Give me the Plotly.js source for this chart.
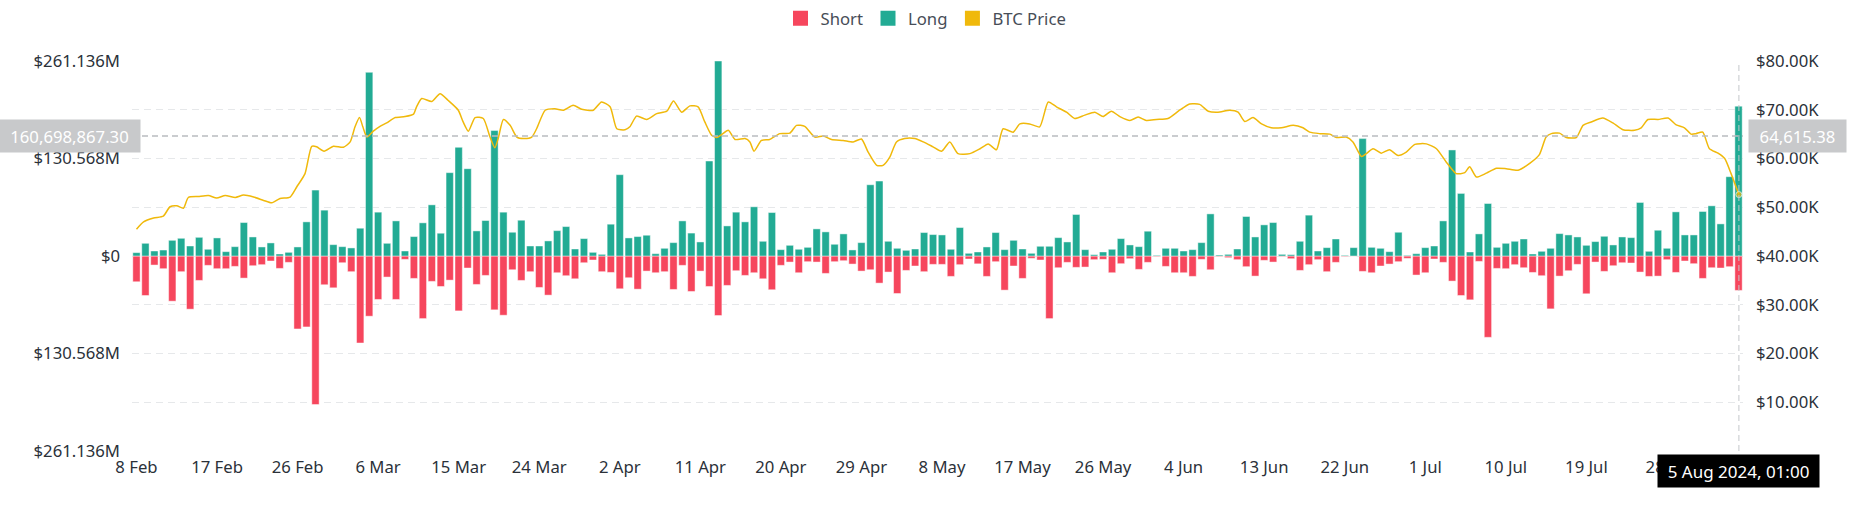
<!DOCTYPE html>
<html>
<head>
<meta charset="utf-8">
<script src="https://cdn.plot.ly/plotly-3.0.1.min.js"></script>
<style>
  html, body { margin: 0; padding: 0; background: #ffffff; }
  #chart { width: 1852px; height: 525px; }
</style>
</head>
<body>
<div id="chart"></div>
<script>
// ---- Data ----
const startDate = '2024-02-08';   // first daily bar
// Long liquidations per day, million USD (8 Feb .. 5 Aug 2024)
const longM = [
  4.5, 17, 6.7, 8, 21, 23.7, 13.4, 25, 9, 24.2,
  5.8, 12.5, 44.8, 25.5, 12.1, 17.5, 2.7, 4.9, 12.1, 45.7,
  88.3, 61.4, 15.2, 12.5, 10.8, 37.2, 246, 58.7, 17, 47,
  6.7, 26, 44.4, 68.5, 30.5, 111.6, 145.6, 116.9, 33.6, 47.5,
  168, 58.7, 31.8, 47.9, 13.4, 13.4, 20.2, 34, 39.4, 9.4,
  23.3, 4.9, 2.2, 42.6, 108.9, 24.2, 26, 27.8, 3.1, 10.3,
  17.9, 47, 30.7, 18.8, 127.2, 261.136, 40.3, 58.7, 45.7, 65.9,
  19.7, 58.2, 8.5, 14.3, 9, 11.6, 36.3, 32.3, 15.7, 29.6,
  8.1, 17.9, 95.4, 100.4, 19.7, 10.3, 7.6, 9.4, 31.4, 28.7,
  28.2, 9, 38.1, 3.6, 5.4, 12.1, 31.4, 8.5, 21, 9.4,
  3.6, 13, 13, 24.6, 18.8, 55.6, 8.5, 1.8, 5.4, 9,
  23.3, 14.8, 12.5, 33.2, 0.9, 10.3, 10.3, 6.7, 8.5, 17.9,
  56.4, 1.3, 2.2, 9.4, 52.9, 25.5, 41.7, 44.8, 2.2, 1.8,
  19.7, 54.7, 6.7, 11.2, 22.8, 0.9, 11.2, 157.2, 11.6, 10.3,
  5.8, 31.8, 0.9, 3.1, 11.2, 13.4, 47, 142, 83.8, 5.4,
  29.6, 70.3, 11.6, 17, 19.7, 22.8, 2.7, 6.3, 10.3, 30,
  28.2, 25.5, 14.3, 19.3, 26.4, 14.8, 25.5, 24.6, 71.7, 6.3,
  34.5, 10.3, 59.1, 28.2, 28.2, 59.6, 67.2, 43, 106.2, 200.7
];
// Short liquidations per day, million USD (drawn below zero)
const shortM = [
  34.5, 52.9, 12.1, 17, 60.5, 21, 71.2, 32.7, 12.5, 17,
  17, 13.9, 29.6, 13, 11.6, 6.7, 16.6, 8.5, 97.7, 95,
  198.9, 38.5, 42.6, 9, 21, 116.5, 80.6, 58.2, 28.2, 58.2,
  4.5, 30, 83.8, 34, 40.8, 32.3, 73.5, 16.1, 38.1, 26,
  72.1, 79.3, 18.4, 32.7, 21, 42.1, 52.4, 22.4, 26.4, 30.5,
  9, 5.4, 21, 22, 43.9, 29.1, 44.4, 20.2, 22.4, 21,
  44.8, 12.5, 47.5, 20.2, 40.8, 79.7, 39.4, 19.7, 26, 22.4,
  30.5, 45.2, 12.5, 8.1, 22.4, 7.6, 8.1, 23.3, 7.6, 6.3,
  10.8, 20.2, 18.4, 36.3, 21.5, 50.2, 19.3, 13.4, 21, 11.2,
  11.2, 27.3, 11.6, 4, 10.5, 27.3, 7.6, 45.7, 13.4, 30,
  3.1, 5.4, 83.8, 15.7, 8.5, 15.2, 14.8, 4.9, 4.5, 22.4,
  10.3, 3.6, 17.9, 8.5, 0.9, 13.9, 22.4, 22.4, 27.3, 4.5,
  18.4, 0.9, 2.2, 4.9, 14.3, 26.9, 5.8, 8.1, 0.9, 3.6,
  19.3, 11.6, 4.9, 21, 8.5, 0.9, 0.3, 20.6, 22.4, 13.4,
  10.8, 7.6, 3.1, 25.5, 22.4, 4, 8.5, 33.6, 52.9, 58.7,
  7.2, 108.9, 16.6, 17, 11.6, 15.7, 22, 26.4, 70.8, 26.9,
  19.7, 11.2, 50.6, 8.1, 20.6, 13, 9, 9.4, 21.5, 27.3,
  26.9, 4.9, 22, 6.7, 10.3, 30, 15.7, 16.1, 14.3, 46.1
];
// BTC price samples: time in days after 8 Feb 2024 00:00, price in thousand USD
const priceDay = [
  0.0, 0.78, 1.9, 3.02, 3.76, 4.51, 5.25, 5.81, 6.93, 8.04,
  8.97, 9.91, 11.03, 11.95, 13.07, 14.19, 15.12, 16.05, 17.17, 17.91,
  18.84, 19.59, 20.14, 20.96, 22.0, 23.12, 23.87, 24.43, 24.91, 25.28,
  25.73, 26.47, 27.22, 27.97, 28.9, 30.01, 30.94, 31.31, 31.87, 32.99,
  33.92, 34.85, 35.97, 36.52, 37.08, 37.83, 38.76, 39.5, 40.06, 40.43,
  41.0, 41.74, 42.48, 43.23, 44.16, 44.71, 45.65, 46.76, 47.69, 48.81,
  49.74, 51.04, 51.97, 52.9, 53.65, 54.58, 55.14, 55.88, 57.0, 58.12,
  59.23, 59.98, 60.91, 61.84, 62.77, 63.51, 64.26, 64.82, 65.37, 66.12,
  66.86, 67.98, 68.54, 68.98, 69.84, 70.77, 71.89, 73.01, 73.75, 74.68,
  75.8, 76.73, 77.66, 78.96, 80.08, 81.01, 81.75, 82.69, 83.43, 84.18,
  84.92, 85.85, 86.97, 87.9, 89.01, 89.95, 90.88, 91.81, 93.11, 94.23,
  95.15, 96.09, 96.83, 97.95, 98.69, 99.81, 100.93, 101.86, 102.79, 103.9,
  104.83, 105.95, 107.07, 108.0, 108.93, 109.86, 110.98, 111.91, 112.84, 113.96,
  115.26, 116.56, 117.68, 118.8, 119.73, 120.84, 122.15, 123.08, 123.82, 124.75,
  125.69, 126.81, 127.92, 129.23, 130.34, 131.09, 132.2, 133.32, 134.07, 135.18,
  135.93, 136.86, 137.42, 138.16, 139.09, 140.02, 140.95, 141.88, 142.82, 144.12,
  145.24, 146.35, 147.47, 148.4, 148.96, 149.7, 150.82, 151.94, 153.05, 154.36,
  155.66, 156.77, 157.52, 158.08, 159.01, 159.75, 160.87, 161.61, 162.54, 163.85,
  164.96, 166.08, 167.38, 168.13, 168.87, 169.99, 171.11, 172.04, 172.97, 173.71,
  174.27, 175.02, 175.76, 176.69, 177.44, 178.18, 179.04
];
const priceK = [
  45.5, 47.0, 47.8, 48.2, 50.1, 50.3, 49.8, 52.0, 52.2, 52.4,
  51.9, 52.4, 52.0, 52.5, 52.1, 51.4, 50.9, 51.8, 52.1, 54.2,
  56.9, 62.5, 62.4, 61.5, 62.5, 62.3, 63.4, 66.5, 68.4, 66.5,
  64.4, 65.6, 66.6, 67.3, 68.4, 68.6, 69.1, 70.6, 72.3, 71.7,
  73.3, 71.9, 69.9, 67.5, 65.6, 68.4, 68.2, 64.4, 62.2, 64.1,
  68.0, 66.8, 64.4, 64.1, 64.4, 66.1, 69.9, 70.2, 69.9, 70.9,
  70.1, 69.9, 71.6, 70.6, 66.1, 65.9, 66.5, 68.7, 68.0, 69.2,
  69.7, 71.8, 69.5, 70.8, 70.6, 67.5, 64.8, 64.3, 64.9, 65.8,
  63.9, 64.1, 63.4, 61.5, 63.7, 63.9, 65.1, 65.2, 66.8, 66.6,
  64.4, 64.6, 63.9, 63.7, 63.4, 64.0, 61.3, 58.6, 58.6, 60.3,
  63.4, 64.1, 64.1, 63.4, 62.4, 61.5, 63.4, 61.0, 61.0, 62.0,
  63.0, 61.8, 66.1, 65.4, 67.1, 67.1, 66.5, 71.6, 70.6, 69.5,
  68.2, 68.9, 69.5, 68.6, 69.7, 68.6, 67.8, 68.5, 67.8, 68.0,
  68.2, 69.9, 71.2, 71.1, 69.7, 69.5, 69.9, 69.5, 67.6, 68.4,
  67.1, 66.3, 66.3, 66.8, 66.3, 65.4, 65.1, 65.0, 64.3, 64.4,
  63.4, 60.4, 61.0, 62.0, 61.1, 61.8, 60.6, 61.3, 62.9, 63.0,
  62.0, 59.3, 56.9, 57.1, 58.3, 56.2, 57.0, 58.0, 57.9, 57.6,
  59.0, 60.8, 64.4, 65.1, 65.2, 64.3, 64.3, 66.8, 67.5, 68.3,
  67.3, 65.9, 65.8, 66.3, 68.0, 68.0, 68.3, 66.9, 66.3, 65.0,
  65.1, 65.4, 62.0, 61.1, 60.0, 56.9, 52.6
];
// Axis ticks
const leftTickM = [-261.136, -195.852, -130.568, -65.284, 0, 65.284, 130.568, 195.852, 261.136];
const leftTickText = ['$261.136M', '', '$130.568M', '', '$0', '', '$130.568M', '', '$261.136M'];
const rightTickVals = [10000, 20000, 30000, 40000, 50000, 60000, 70000, 80000];
const rightTickText = ['$10.00K', '$20.00K', '$30.00K', '$40.00K', '$50.00K', '$60.00K', '$70.00K', '$80.00K'];
// Hover read-out shown in the reference
const hoverTime = '2024-08-05 01:00';
const hoverTimeLabel = '5 Aug 2024, 01:00';
const hoverLeftValue = 160698867.30;
const hoverLeftLabel = '160,698,867.30';
const hoverRightValue = 64615.38;
const hoverRightLabel = '64,615.38';

// ---- Build traces ----
const DAY = 86400000;
const baseMs = Date.parse(startDate + 'T00:00:00Z');
const iso = ms => new Date(ms).toISOString().slice(0, 19).replace('T', ' ');
const dates = longM.map((_, i) => iso(baseMs + i * DAY));
const priceX = priceDay.map(d => iso(baseMs + Math.round(d * 24) * 3600000));

const RED = '#F6465D', GREEN = '#22AB94', GOLD = '#F0B90B';
const FONT = "'Noto Sans', 'Open Sans', sans-serif";
const TEXT = '#474D57';
const FS = 16.7;

const traces = [
  {
    type: 'bar', name: 'Short', x: dates, y: shortM.map(v => -v * 1e6),
    marker: { color: RED, line: { color: 'rgba(255,255,255,0.45)', width: 1 } },
    showlegend: false, hoverinfo: 'skip'
  },
  {
    type: 'bar', name: 'Long', x: dates, y: longM.map(v => v * 1e6),
    marker: { color: GREEN, line: { color: 'rgba(255,255,255,0.45)', width: 1 } },
    showlegend: false, hoverinfo: 'skip'
  },
  {
    type: 'scatter', mode: 'lines+markers', name: 'BTC Price', x: priceX, y: priceK.map(v => v * 1000),
    yaxis: 'y2', line: { color: GOLD, width: 1.5, shape: 'spline', smoothing: 0.6 },
    marker: { color: GOLD, size: priceK.map((_, i) => i === priceK.length - 1 ? 6 : 0) },
    showlegend: false, hoverinfo: 'skip'
  },
  // legend entries (square swatches)
  { type: 'scatter', mode: 'markers', name: 'Short', x: [null], y: [null], marker: { symbol: 'square', size: 15, color: RED } },
  { type: 'scatter', mode: 'markers', name: 'Long', x: [null], y: [null], marker: { symbol: 'square', size: 15, color: GREEN } },
  { type: 'scatter', mode: 'markers', name: 'BTC Price', x: [null], y: [null], marker: { symbol: 'square', size: 15, color: GOLD } }
];

const leftMax = 261.136e6;
const layout = {
  width: 1852, height: 525,
  margin: { l: 132, r: 109, t: 61, b: 74, pad: 0 },
  paper_bgcolor: '#ffffff', plot_bgcolor: '#ffffff',
  font: { family: FONT, size: FS, color: TEXT },
  barmode: 'relative', bargap: 0.18,
  hovermode: false,
  showlegend: true,
  legend: {
    orientation: 'h', xref: 'container', yref: 'container',
    x: 0.5, xanchor: 'center', y: 1 - 18.5 / 525, yanchor: 'middle',
    font: { family: FONT, size: FS, color: TEXT }, itemclick: false, itemdoubleclick: false
  },
  xaxis: {
    type: 'date',
    range: [iso(baseMs - DAY / 2), iso(baseMs + (longM.length - 0.5) * DAY)],
    tick0: startDate, dtick: 9 * DAY, tickformat: '%-d %b',
    showgrid: false, zeroline: false, showline: false, ticks: '',
    ticklabelstandoff: 4,
    tickfont: { family: FONT, size: FS, color: '#2B3139' }
  },
  yaxis: {
    range: [-leftMax, leftMax],
    tickmode: 'array', tickvals: leftTickM.map(v => v * 1e6), ticktext: leftTickText,
    showgrid: true, gridcolor: '#E6E8EA', griddash: '7px,5px', gridwidth: 1,
    zeroline: false, showline: false, ticks: '', ticklabelstandoff: 11,
    tickfont: { family: FONT, size: FS, color: '#2B3139' }
  },
  yaxis2: {
    overlaying: 'y', side: 'right', range: [0, 80000],
    tickmode: 'array', tickvals: rightTickVals, ticktext: rightTickText,
    showgrid: false, zeroline: false, showline: false, ticks: '', ticklabelstandoff: 12,
    tickfont: { family: FONT, size: FS, color: '#2B3139' }
  },
  shapes: [
    { type: 'line', xref: 'paper', x0: 0, x1: 1, yref: 'y', y0: hoverLeftValue, y1: hoverLeftValue,
      line: { color: '#B9BCC0', width: 1.5, dash: '6px,4px' } },
    { type: 'line', xref: 'x', x0: hoverTime, x1: hoverTime, yref: 'paper', y0: 0, y1: 1,
      line: { color: '#C4C7CB', width: 1, dash: '6px,4px' } }
  ],
  annotations: [
    { xref: 'paper', x: 9 / 1611, xanchor: 'right', yref: 'y', y: hoverLeftValue, yanchor: 'middle',
      text: hoverLeftLabel, showarrow: false, bgcolor: '#C8C9CB', borderpad: 5, width: 131, height: 22,
      font: { family: FONT, size: FS, color: '#ffffff' } },
    { xref: 'paper', x: 1 + 5 / 1611, xanchor: 'left', yref: 'y2', y: hoverRightValue, yanchor: 'middle',
      text: hoverRightLabel, showarrow: false, bgcolor: '#C8C9CB', borderpad: 5, width: 87, height: 22,
      font: { family: FONT, size: FS, color: '#ffffff' } },
    { xref: 'x', x: hoverTime, xanchor: 'center', yref: 'paper', y: -20 / 390, yanchor: 'middle',
      text: hoverTimeLabel, showarrow: false, bgcolor: '#000000', borderpad: 5, width: 151, height: 22,
      font: { family: FONT, size: 17, color: '#ffffff' } }
  ]
};

Plotly.newPlot('chart', traces, layout, { displayModeBar: false, staticPlot: true });
</script>
</body>
</html>
